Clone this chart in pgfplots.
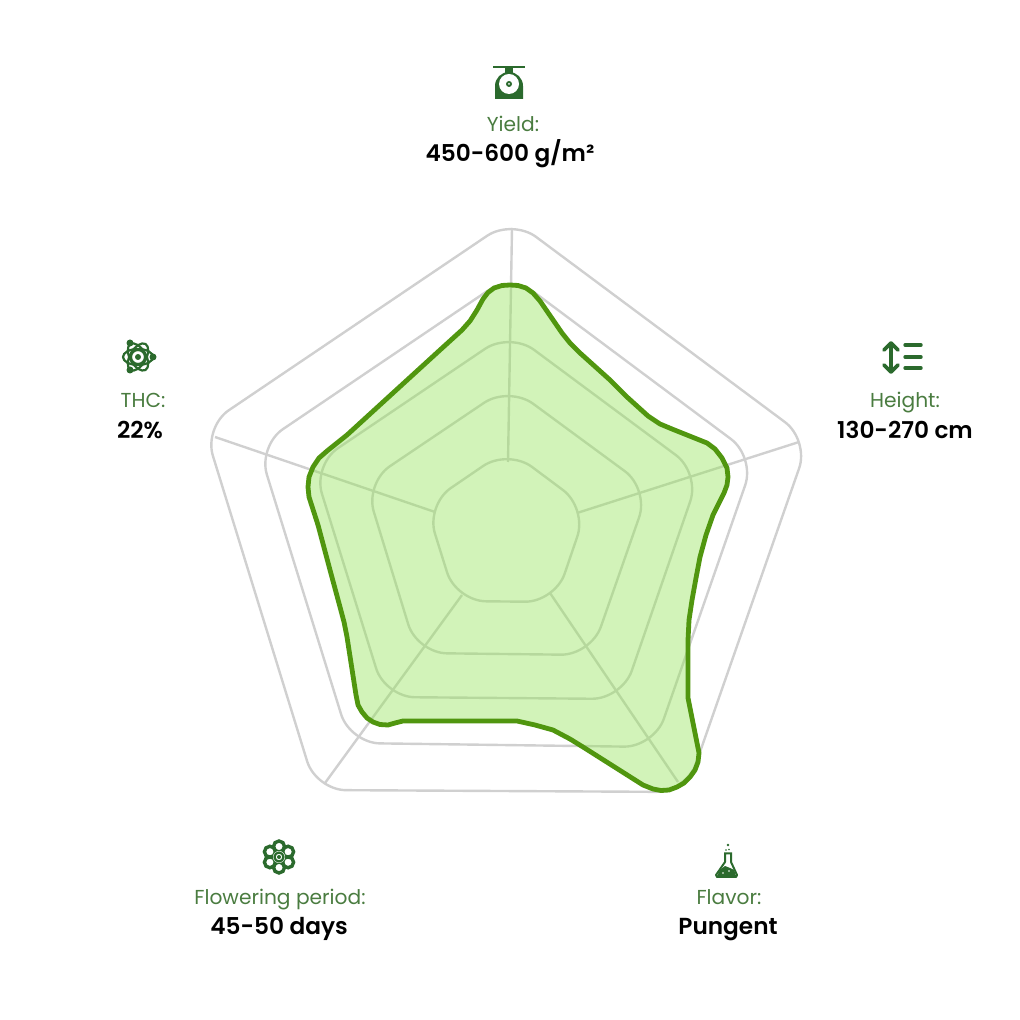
\documentclass[border=0pt]{standalone}
\usepackage{fontspec}
\setmainfont{Poppins}
\newfontfamily\semi{Poppins SemiBold}
\usepackage{pgfplots}
\pgfplotsset{compat=1.18}
\definecolor{gridc}{HTML}{D0D0D0}
\definecolor{fillc}{RGB}{150,228,92}
\definecolor{linec}{RGB}{80,150,15}
\definecolor{labc}{HTML}{4A7C40}
\definecolor{icon}{HTML}{2B6A2D}
\newcommand{\lab}[1]{{\fontsize{10.1pt}{11pt}\selectfont\color{labc}#1}}
\newcommand{\val}[1]{{\fontsize{11.6pt}{14pt}\selectfont\semi\color{black}#1}}
\begin{document}
\begin{tikzpicture}
\useasboundingbox (0,0) rectangle (510pt,510pt);
\begin{axis}[
  at={(0,0)},anchor=south west,
  scale only axis,width=510pt,height=510pt,
  xmin=0,xmax=1020,ymin=0,ymax=1020,y dir=reverse,
  hide axis,clip=false,
  ring/.style={draw=gridc,line width=1.2pt,rounded corners=15pt,no markers},
  spoke/.style={draw=gridc,line width=1.2pt,no markers}]
\addplot[ring] coordinates {(512,219)(809,440)(686,792)(316,790)(204,427)} -- cycle;
\addplot[ring] coordinates {(511,275)(755,457)(654,747)(350,743)(258,446)} -- cycle;
\addplot[ring] coordinates {(510,332)(700,473)(622,699)(385,697)(313,465)} -- cycle;
\addplot[ring] coordinates {(509,386)(649,489)(591,655)(417,653)(365,483)} -- cycle;
\addplot[ring] coordinates {(508,449)(587,508)(555,602)(456,601)(426,505)} -- cycle;
\addplot[spoke] coordinates {(508,462)(512,228)};
\addplot[spoke] coordinates {(577,513)(799,442)};
\addplot[spoke] coordinates {(550,593)(678,782)};
\addplot[spoke] coordinates {(462,595)(325,783)};
\addplot[spoke] coordinates {(435,512)(215,437)};
\addplot[no markers,fill=fillc,fill opacity=.43,draw=linec,draw opacity=1,line width=2.4pt,line join=round] coordinates {
(483,299)(488,292.5)(494,288)(502,285.5)(510,285)(518,285.5)(526,288)(533,293)(540,301)(562,333)(570,343)(580,353)(610,380)(627,397)(648,416)(660,424)(672,429)(707,443)(715,449)(722,458)(727,468)(728,477)(727,485)(724,493)(713,515)(706,535)(700,557)(696,578)(692,600)(689,620)(688,640)(688,698)(699,753)(698,762)(695,770)(690,777)(684,783)(677,787)(669,790)(661,790.5)(653,789)(643,785)(583,747)(570,739)(553,730)(535,725)(517,721)(403,721)(395,723)(388,725)(380,724.5)(373,722)(367,718)(362,712)(358,705)(356,695)(347,637)(344,622)(340,607)(330,570)(318,525)(309,497)(308,487)(309,477)(313,467)(319,458)(327,451)(347,435)(440,350)(462,330)(470,321)(477,310)} -- cycle;
\node[anchor=base] at (axis cs:513,132) {\lab{Yield:}};
\node[anchor=base] at (axis cs:510,162) {\val{450-600 g/m²}};
\node[anchor=base] at (axis cs:905,408) {\lab{Height:}};
\node[anchor=base] at (axis cs:905,438) {\val{130-270 cm}};
\node[anchor=base] at (axis cs:143,408) {\lab{THC:}};
\node[anchor=base] at (axis cs:140,438) {\val{22\%}};
\node[anchor=base] at (axis cs:280,904) {\lab{Flowering period:}};
\node[anchor=base] at (axis cs:279,934) {\val{45-50 days}};
\node[anchor=base] at (axis cs:729,904) {\lab{Flavor:}};
\node[anchor=base] at (axis cs:728,934) {\val{Pungent}};
\end{axis}
\begin{scope}[yshift=510pt,x=.5pt,y=-.5pt]
% scale
\fill[icon] (493,66) rectangle (525,68.5);
\fill[icon] (505,68) rectangle (513,74);
\fill[icon] (495,99) -- (495,86) arc[start angle=180,end angle=360,x radius=14,y radius=14] -- (523,99) -- cycle;
\fill[white] (509,84) circle[radius=10];
\fill[icon] (509,84) circle[radius=3];
\fill[white] (509,84) circle[radius=1];
% height
\draw[icon,line width=1.8pt,line cap=round,line join=round] (891,343) -- (891,372) (884,350) -- (891,343) -- (898,350) (884,365) -- (891,372) -- (898,365);
\draw[icon,line width=1.7pt,line cap=round] (905,345) -- (921,345) (905,357) -- (921,357) (905,368) -- (921,368);
% atom
\draw[icon,line width=1.1pt] (138,357) circle[radius=7];
\fill[icon] (138,357) circle[radius=3];
\foreach \a in {0,60,120}{\draw[icon,line width=1.1pt,rotate around={\a:(138,357)}] (138,357) ellipse[x radius=15,y radius=8];}
\fill[icon] (130,343) circle[radius=3.5];
\fill[icon] (153,357) circle[radius=3.5];
\fill[icon] (130,370) circle[radius=3.5];
% flower
\foreach \a in {30,90,150,210,270,330}{\draw[icon,line width=1.7pt] ({279+10.5*cos(\a)},{857+10.5*sin(\a)}) circle[radius=5.5];}
\fill[white] (279,857) circle[radius=6];
\draw[icon,line width=1.1pt] (279,857) circle[radius=4.5];
\fill[icon] (279,857) circle[radius=2];
% flask
\draw[icon,line width=1pt,line join=round] (724,853.5) -- (732,853.5) (725,853.5) -- (725,862) -- (716,875) -- (717,877) -- (736,877) -- (737,875) -- (731,862) -- (731,853.5);
\fill[icon] (720,870) -- (725,866) -- (730,868) -- (734,870) -- (736,876) -- (717,876) -- cycle;
\fill[white] (723,873) circle[radius=.8] (729,871) circle[radius=.8];
\fill[icon] (728,845) circle[radius=1.4] (726,850) circle[radius=.9] (729,849.5) circle[radius=.9];
\end{scope}
\end{tikzpicture}
\end{document}
